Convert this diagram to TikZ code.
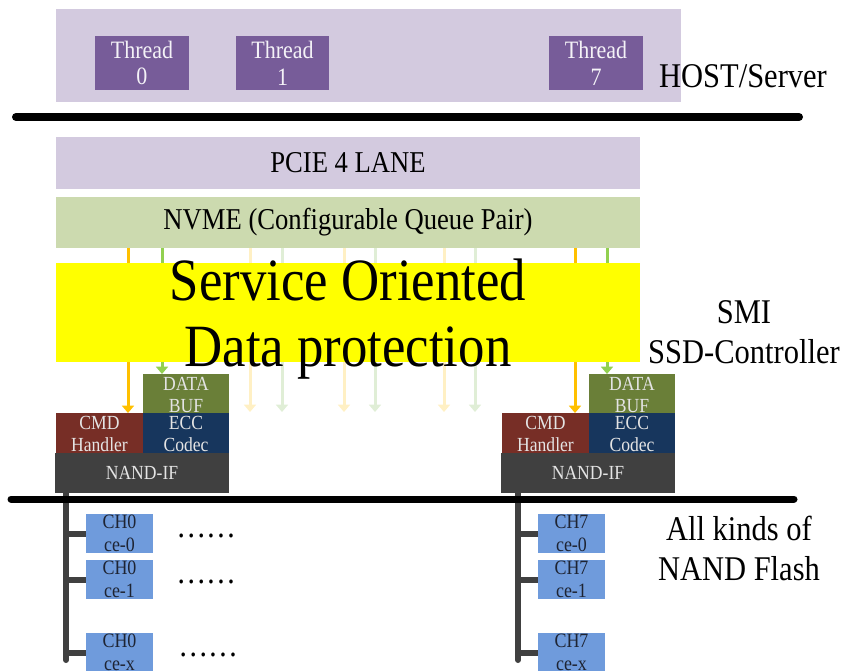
\documentclass[tikz,border=0pt]{standalone}
\usepackage{fontspec}
\setmainfont{Liberation Serif}[FakeStretch=0.88]
\usetikzlibrary{fit,arrows.meta,backgrounds}
\definecolor{hostbg}{HTML}{D3CADF}
\definecolor{threadc}{HTML}{775C99}
\definecolor{nvmebg}{HTML}{CCDAAF}
\definecolor{arrO}{HTML}{FFC000}
\definecolor{arrG}{HTML}{92D050}
\definecolor{arrOf}{HTML}{FFF0C4}
\definecolor{arrGf}{HTML}{E0EED6}
\definecolor{bufc}{HTML}{6A7F38}
\definecolor{cmdc}{HTML}{772E26}
\definecolor{eccc}{HTML}{17365D}
\definecolor{nandc}{HTML}{404040}
\definecolor{chc}{HTML}{6F9BDC}
\definecolor{lighttext}{HTML}{E4E4E4}
\definecolor{chtext}{HTML}{1E2433}
\definecolor{yel}{HTML}{FFFF00}
\begin{document}
\begin{tikzpicture}[x=0.75pt,y=-0.75pt,
  blk/.style={inner sep=0pt, outer sep=0pt},
  txt/.style={inner sep=0pt, align=center},
  threadtxt/.style={txt, text=white!92!threadc, font=\fontsize{18.75pt}{20pt}\selectfont},
  widetxt/.style={txt, font=\fontsize{22.7pt}{24pt}\selectfont},
  ctrltxt/.style={txt, text=lighttext, font=\fontsize{15pt}{16.5pt}\selectfont},
  chtxt/.style={txt, text=chtext, font=\fontsize{15.3pt}{17pt}\selectfont},
  side/.style={txt, font=\fontsize{26pt}{30pt}\selectfont},
  dots/.style={inner sep=0pt, anchor=base west, font=\fontsize{25.5pt}{26pt}\selectfont},
  arr/.style={line width=2.25pt, -{Triangle[width=9pt,length=5.5pt]}},
  bus/.style={line width=4.5pt, draw=nandc},
  bar/.style={line width=6pt, line cap=round, draw=black}
]
\useasboundingbox (0,0) rectangle (844,671);
\clip (0,0) rectangle (844,671);

% host
\node[blk, fill=hostbg, fit={(56,9) (681,102)}] (host) {};
\node[blk, fill=threadc, fit={(95,36) (189,90)}] (th0) {};
\node[blk, fill=threadc, fit={(236,36) (329,90)}] (th1) {};
\node[blk, fill=threadc, fit={(549,36) (643,90)}] (th7) {};
\node[threadtxt] (th0t) at (th0.center) {Thread\\0};
\node[threadtxt] (th1t) at (th1.center) {Thread\\1};
\node[threadtxt] (th7t) at (th7.center) {Thread\\7};
\node[side] (hostlbl) at (743,76) {HOST/Server};

\coordinate (b1l) at (16,117);
\coordinate (b1r) at (799,117);
\draw[bar] (b1l) -- (b1r);

% controller
\node[blk, fill=hostbg, fit={(56,137) (640,189)}] (pcie) {};
\node[widetxt] (pciet) at (pcie.center) {PCIE 4 LANE};
\node[blk, fill=nvmebg, fit={(56,197) (640,248)}] (nvme) {};
\node[widetxt] (nvmet) at (nvme.center) {NVME (Configurable Queue Pair)};
\node[blk, fill=yel, fit={(56,263) (640,362)}] (sodbox) {};
\node[txt, font=\fontsize{45pt}{49.5pt}\selectfont] (sodp) at (348,319) {Service Oriented\\Data protection};
\node[side] (smi) at (744,332) {SMI\\SSD-Controller};

\node[blk, fill=bufc, fit={(143,374) (229,413)}] (bufL) {};
\node[blk, fill=cmdc, fit={(56,413) (143,453)}] (cmdL) {};
\node[blk, fill=eccc, fit={(143,413) (229,453)}] (eccL) {};
\node[blk, fill=nandc, fit={(55,453) (229,493)}] (nandL) {};
\node[blk, fill=bufc, fit={(589,374) (675,413)}] (bufR) {};
\node[blk, fill=cmdc, fit={(502,413) (589,453)}] (cmdR) {};
\node[blk, fill=eccc, fit={(589,413) (675,453)}] (eccR) {};
\node[blk, fill=nandc, fit={(501,453) (675,493)}] (nandR) {};
\foreach \s in {L,R} {
  \node[ctrltxt] (bufT\s) at ([yshift=-1pt]buf\s.center) {DATA\\BUF};
  \node[ctrltxt] (cmdT\s) at ([yshift=-1pt]cmd\s.center) {CMD\\Handler};
  \node[ctrltxt] (eccT\s) at ([yshift=-1pt]ecc\s.center) {ECC\\Codec};
  \node[ctrltxt] (nandT\s) at (nand\s.center) {NAND-IF};
}

\coordinate (fadeEnd) at (0,412);
\begin{scope}[on background layer]
  \draw[arr, arrO] (nvme.south -| 128,0) -- (cmdL.north -| 128,0);
  \draw[arr, arrG] (nvme.south -| 162,0) -- (bufL.north -| 162,0);
  \draw[arr, arrO] (nvme.south -| 575,0) -- (cmdR.north -| 575,0);
  \draw[arr, arrG] (nvme.south -| 607,0) -- (bufR.north -| 607,0);
  \foreach \xo/\xg in {250/282, 344/375, 444/475} {
    \draw[arr, arrOf] (nvme.south -| \xo,0) -- (fadeEnd -| \xo,0);
    \draw[arr, arrGf] (nvme.south -| \xg,0) -- (fadeEnd -| \xg,0);
  }
\end{scope}

% NAND flash
\node[blk, fill=chc, fit={(86,514) (153,553)}] (c0a) {};
\node[blk, fill=chc, fit={(86,560) (153,599)}] (c0b) {};
\node[blk, fill=chc, fit={(86,633) (153,672)}] (c0x) {};
\node[blk, fill=chc, fit={(538,514) (605,553)}] (c7a) {};
\node[blk, fill=chc, fit={(538,560) (605,599)}] (c7b) {};
\node[blk, fill=chc, fit={(538,633) (605,672)}] (c7x) {};
\node[chtxt] (c0at) at (c0a.center) {CH0\\ce-0};
\node[chtxt] (c0bt) at (c0b.center) {CH0\\ce-1};
\node[chtxt] (c0xt) at (c0x.center) {CH0\\ce-x};
\node[chtxt] (c7at) at (c7a.center) {CH7\\ce-0};
\node[chtxt] (c7bt) at (c7b.center) {CH7\\ce-1};
\node[chtxt] (c7xt) at (c7x.center) {CH7\\ce-x};

\coordinate (busLend) at (66,660);
\coordinate (busRend) at (518,660);
\draw[bus, line cap=round] (nandL.south -| busLend) -- (busLend);
\draw[bus, line cap=round] (nandR.south -| busRend) -- (busRend);
\foreach \c in {c0a,c0b,c0x} \draw[bus] (busLend |- \c.west) -- (\c.west);
\foreach \c in {c7a,c7b,c7x} \draw[bus] (busRend |- \c.west) -- (\c.west);

\coordinate (b2l) at (11,499);
\coordinate (b2r) at (794,499);
\draw[bar, line width=5.25pt] (b2l) -- (b2r);

\node[dots] (d1) at (176,537) {……};
\node[dots] (d2) at (176,583) {……};
\node[dots] (d3) at (178,656) {……};

\node[side] (flash) at (739,548) {All kinds of\\NAND Flash};
\end{tikzpicture}
\end{document}
